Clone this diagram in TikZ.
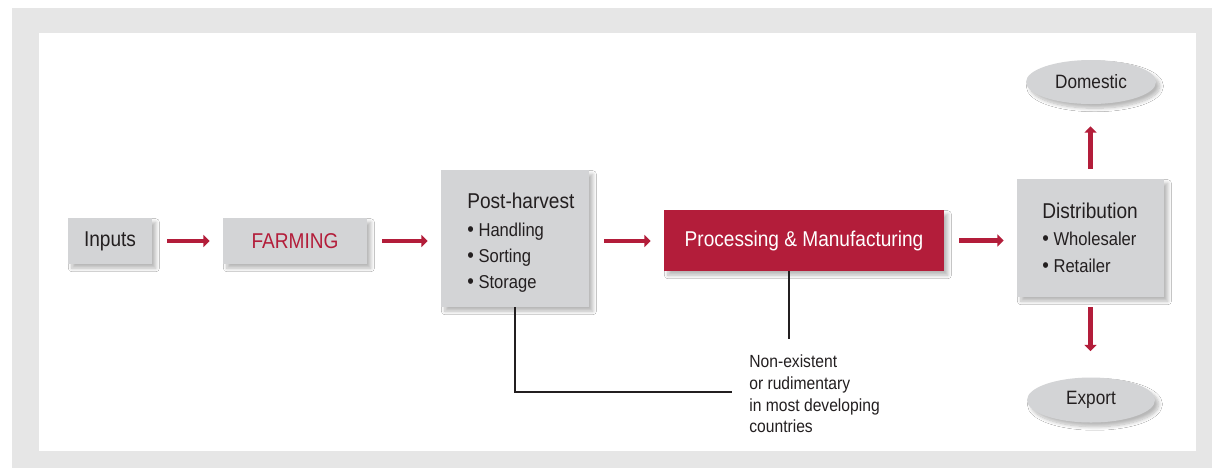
\documentclass[tikz,border=0pt]{standalone}
\usepackage{fontspec}
\setmainfont{Liberation Sans}[FakeStretch=0.89]
\usetikzlibrary{arrows.meta,shapes.geometric,shadows.blur}
\definecolor{framegray}{HTML}{E6E6E6}
\definecolor{boxgray}{HTML}{D3D4D6}
\definecolor{crimson}{HTML}{B31D3A}
\definecolor{ink}{HTML}{231F20}
\newcommand{\bul}{\raisebox{-0.4pt}{\fontsize{12}{12}\selectfont•}}
\begin{document}
\begin{tikzpicture}[x=0.02cm,y=-0.02cm,
  softshadow/.style={blur shadow={shadow xshift=2.2pt,shadow yshift=-2.4pt,shadow blur steps=8,shadow blur radius=2pt,shadow opacity=28}},
  graybox/.style={rectangle,fill=boxgray,inner sep=0pt,softshadow},
  titlefont/.style={font=\fontsize{12.2}{14}\selectfont},
  titletxt/.style={inner sep=0pt,anchor=base west,text=ink,font=\fontsize{12.2}{14}\selectfont},
  itemtxt/.style={inner sep=0pt,anchor=base west,text=ink,font=\fontsize{10.6}{12}\selectfont},
  flow/.style={draw=crimson,line width=2.6pt,-{Triangle[length=3.6pt,width=6.8pt]},shorten <=0.3cm,shorten >=0.26cm},
  vflow/.style={draw=crimson,line width=2.6pt,-{Triangle[length=3.6pt,width=6.8pt]}},
  lead/.style={draw=ink,line width=1.1pt}
]
\useasboundingbox (0,0) rectangle (1212,468);
\fill[framegray] (12,8) rectangle (1212,468);
\fill[white] (39,33) rectangle (1196,451);

\node[graybox,minimum width=1.68cm,minimum height=0.92cm,titlefont,text=ink] (inputs) at (110,241) {Inputs};
\node[graybox,minimum width=2.88cm,minimum height=0.92cm,titlefont,text=crimson] (farming) at (295,241) {FARMING};
\node[graybox,minimum width=2.96cm,minimum height=2.74cm] (post) at (515,238.5) {};
\node[rectangle,fill=crimson,softshadow,inner sep=0pt,minimum width=5.6cm,minimum height=1.22cm,titlefont,text=white] (proc) at (804,240.5) {Processing \& Manufacturing};
\node[graybox,minimum width=2.94cm,minimum height=2.36cm] (dist) at (1090.5,238) {};
\node[ellipse,fill=boxgray,softshadow,inner sep=0pt,minimum width=2.6cm,minimum height=0.88cm,text=ink,font=\fontsize{11}{13}\selectfont] (dom) at (1091,82) {Domestic};
\node[ellipse,fill=boxgray,softshadow,inner sep=0pt,minimum width=2.56cm,minimum height=0.9cm,text=ink,font=\fontsize{11}{13}\selectfont] (exp) at (1091,400) {Export};

\node[titletxt] (postT) at (467,208) {Post-harvest};
\node[itemtxt] (postA) at (467,236) {\bul\ Handling};
\node[itemtxt] (postB) at (467,262) {\bul\ Sorting};
\node[itemtxt] (postC) at (467,288) {\bul\ Storage};

\node[titletxt] (distT) at (1042,218) {Distribution};
\node[itemtxt] (distA) at (1042,245) {\bul\ Wholesaler};
\node[itemtxt] (distB) at (1042,272) {\bul\ Retailer};

\draw[flow] (inputs.east) -- (inputs.east -| farming.west);
\draw[flow] (farming.east) -- (farming.east -| post.west);
\draw[flow] (farming.east -| post.east) -- (farming.east -| proc.west);
\draw[flow] (proc.east) -- (proc.east -| dist.west);
\draw[vflow,shorten <=0.2cm,shorten >=0.44cm] (dist.north) -- (dist.north |- dom.south);
\draw[vflow,shorten <=0.2cm,shorten >=0.52cm] (dist.south) -- (dist.south |- exp.north);

\coordinate (noteL) at (732,392);
\coordinate (noteT) at (789,339);
\draw[lead] (post.south) |- (noteL);
\draw[lead] (proc.south -| noteT) -- (noteT);

\node[anchor=north west,align=left,inner sep=0pt,text=ink,font=\fontsize{10}{12.5}\selectfont] (note) at (749,354) {Non-existent\\or rudimentary\\in most developing\\countries};
\end{tikzpicture}
\end{document}
